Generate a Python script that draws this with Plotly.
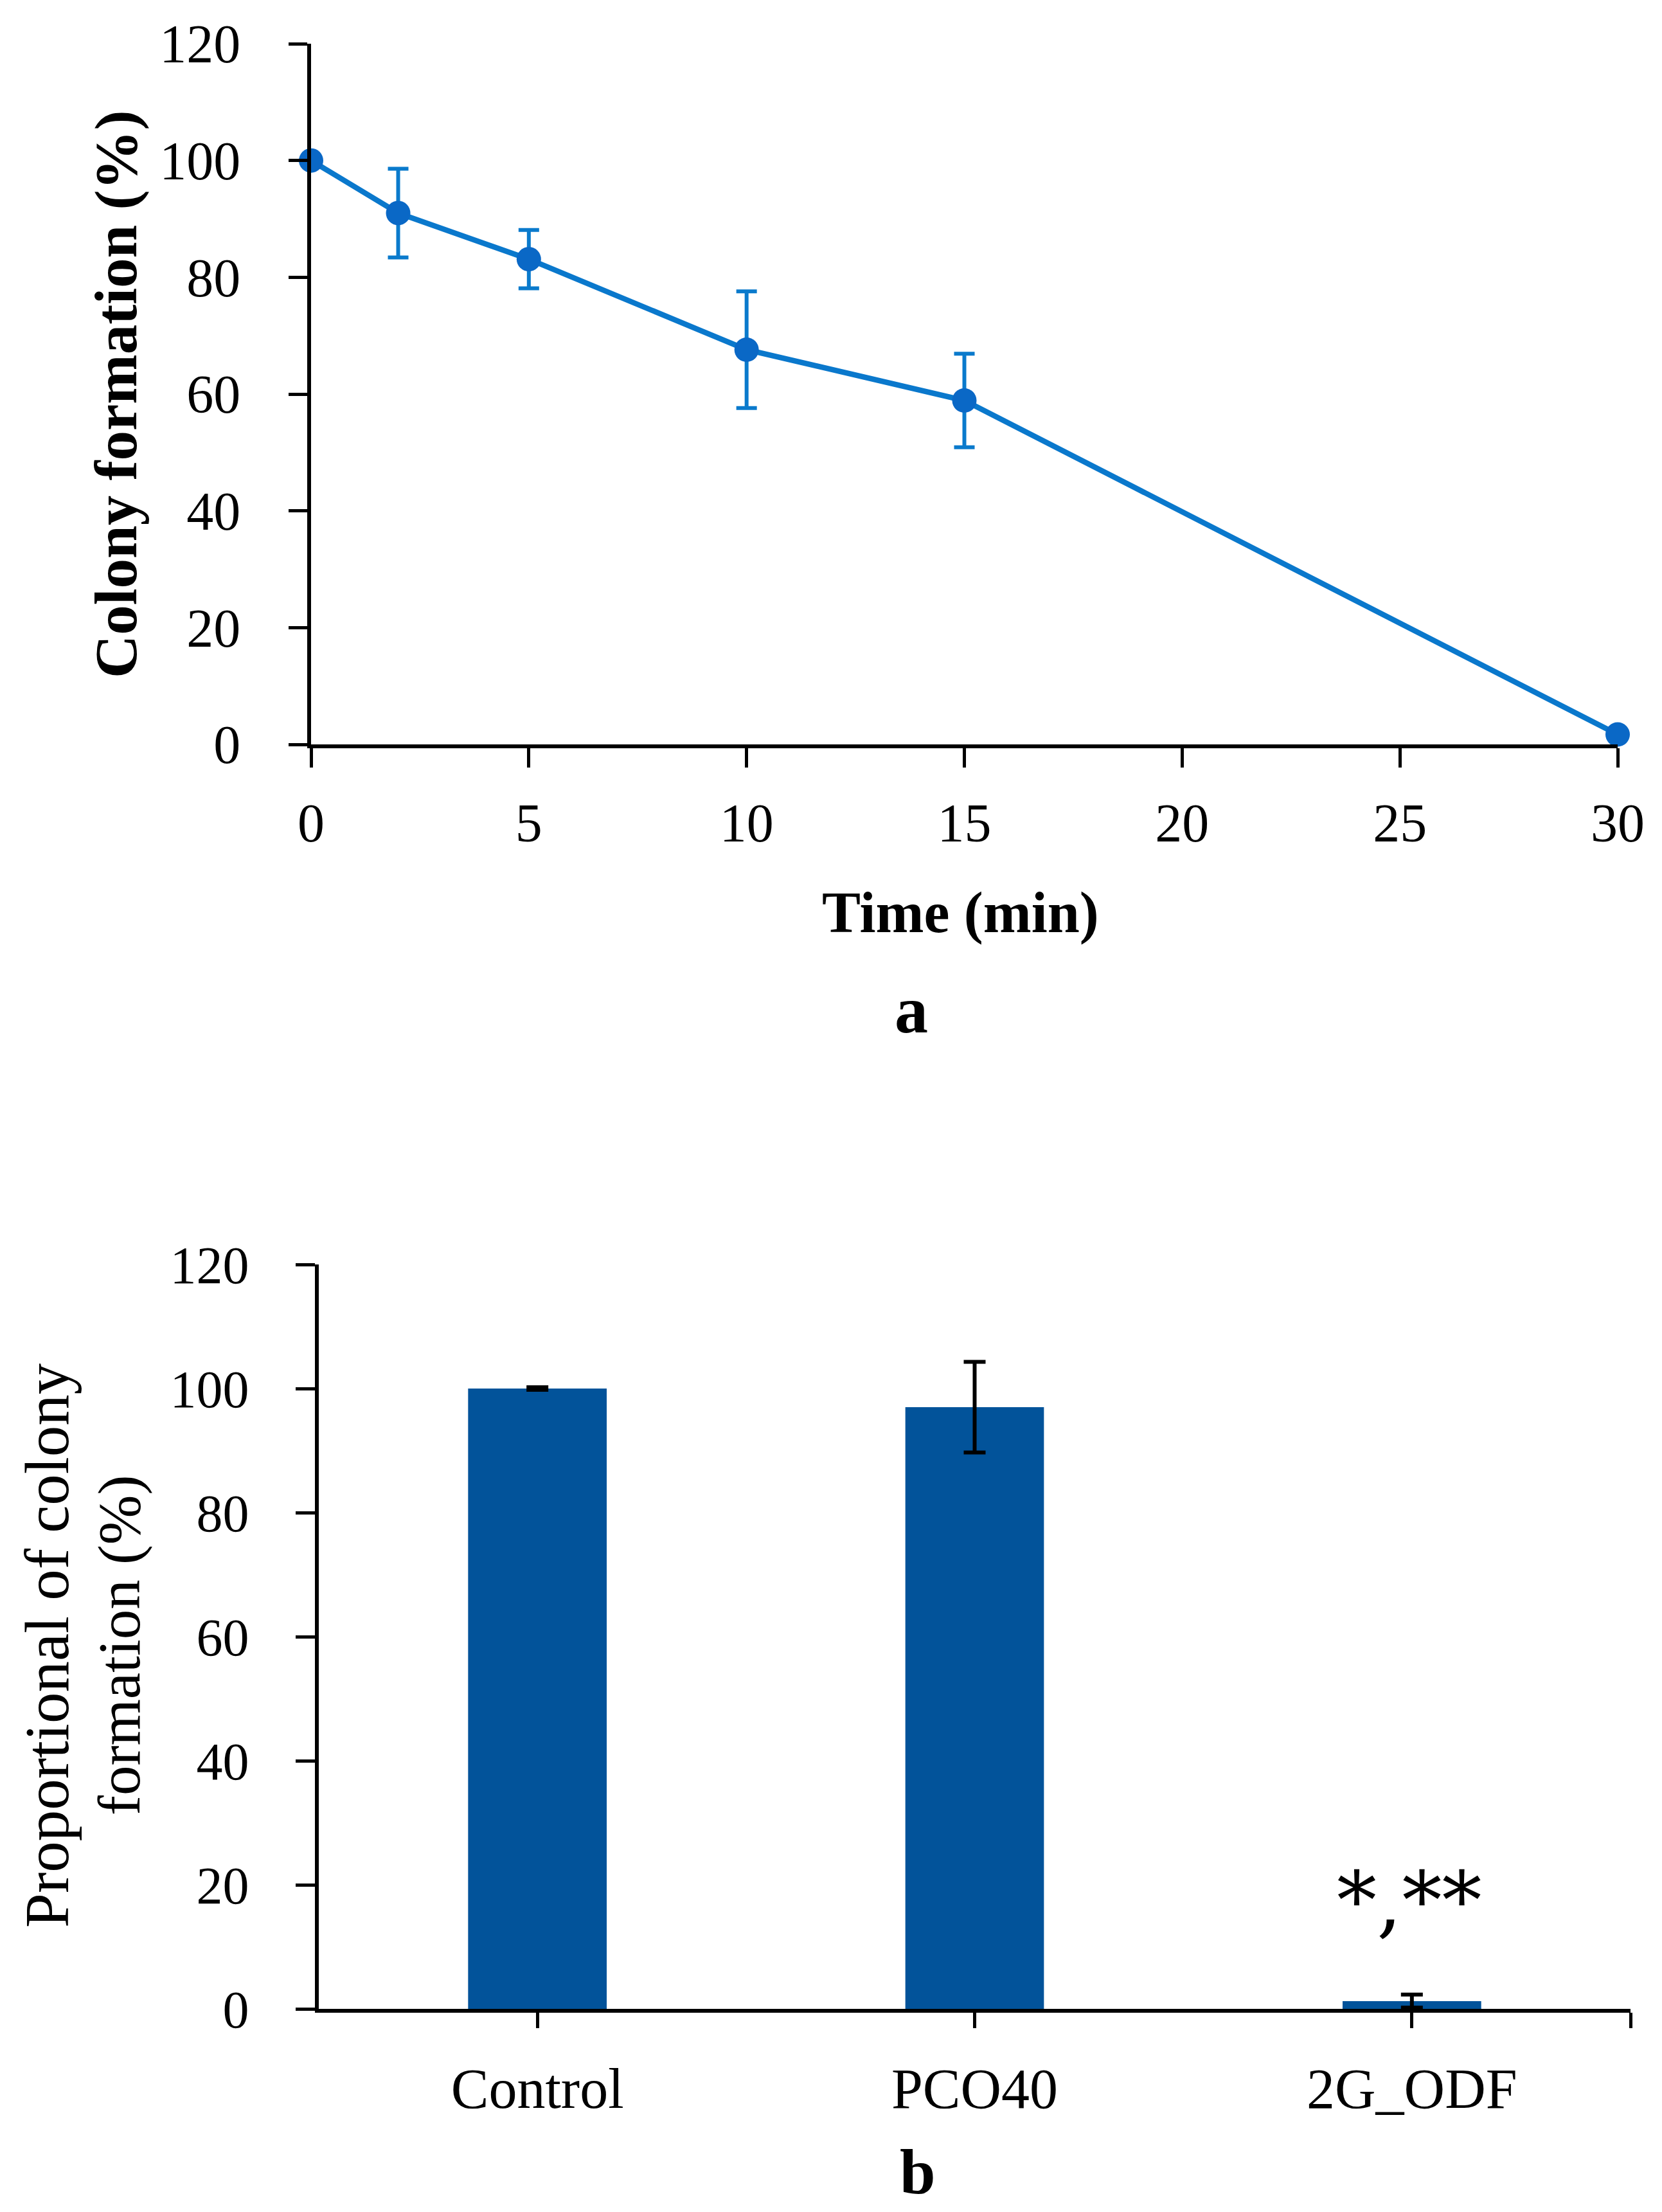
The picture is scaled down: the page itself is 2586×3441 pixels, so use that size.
import plotly.graph_objects as go

# ---- Panel a data ----
time_min = [0, 2, 5, 10, 15, 30]
colony_pct = [100, 91.0, 83.1, 67.6, 58.9, 1.7]
colony_err = [0, 7.6, 5.0, 10.0, 8.0, 0]
x_ticks_a = [0, 5, 10, 15, 20, 25, 30]
y_ticks = [0, 20, 40, 60, 80, 100, 120]

# ---- Panel b data ----
groups = ["Control", "PCO40", "2G_ODF"]
prop_pct = [100, 97.0, 1.25]
prop_err = [0.2, 7.3, 1.05]
signif_label = "*,**"

FONT = "Liberation Serif"
W, H = 2586, 3441

def px(xp):
    return xp / W

def py(yp):
    return 1 - yp / H

fig = go.Figure()

fig.add_trace(go.Scatter(
    x=time_min, y=colony_pct,
    mode="lines+markers",
    line=dict(color="#0A78CC", width=8.5),
    marker=dict(size=38, color="#0A68C6"),
    error_y=dict(type="data", array=colony_err, color="#0A7ACC", thickness=6, width=16),
    cliponaxis=False,
    xaxis="x", yaxis="y", showlegend=False,
))

bar_x = list(range(len(groups)))
fig.add_trace(go.Bar(
    x=bar_x, y=prop_pct, width=0.317,
    marker=dict(color="#02539A", line=dict(width=0)),
    error_y=dict(type="data", array=prop_err, color="black", thickness=6, width=17),
    xaxis="x2", yaxis="y2", showlegend=False,
))

axis_common = dict(
    showline=True, linecolor="black", linewidth=6,
    ticks="outside", tickcolor="black", tickwidth=5,
    showgrid=False, zeroline=False,
)

fig.update_layout(
    width=W, height=H,
    margin=dict(l=0, r=0, t=0, b=0, autoexpand=False),
    paper_bgcolor="white", plot_bgcolor="white",
    font=dict(family=FONT, color="black"),
    xaxis=dict(
        domain=[px(476), px(2509)], range=[0, 30], anchor="y",
        tickmode="array", tickvals=x_ticks_a, ticktext=[str(v) for v in x_ticks_a],
        ticklen=30, tickfont=dict(size=84, family=FONT, color="black"),
        ticklabelstandoff=14, **axis_common,
    ),
    yaxis=dict(
        domain=[py(1150), py(60)], range=[0, 120], anchor="x",
        tickmode="array", tickvals=y_ticks, ticktext=[str(v) for v in y_ticks],
        ticklen=29, tickfont=dict(size=84, family=FONT, color="black"),
        ticklabelstandoff=58, **axis_common,
    ),
    xaxis2=dict(
        domain=[px(488), px(2529)], range=[-0.5, 2.5], anchor="y2",
        tickmode="array", tickvals=bar_x, ticktext=groups,
        ticklen=24, tickfont=dict(size=88, family=FONT, color="black"),
        ticklabelstandoff=18,
        minor=dict(tickmode="array", tickvals=[2.5], ticks="outside", ticklen=24,
                   tickwidth=5, tickcolor="black", showgrid=False),
        **axis_common,
    ),
    yaxis2=dict(
        domain=[py(3117), py(1959)], range=[0, 120], anchor="x2",
        tickmode="array", tickvals=y_ticks, ticktext=[str(v) for v in y_ticks],
        ticklen=30, tickfont=dict(size=82, family=FONT, color="black"),
        ticklabelstandoff=56, **axis_common,
    ),
)

ann = [
    dict(text="<b>Colony formation (%)</b>", x=px(172), y=py(606), textangle=-90, size=93, family=FONT),
    dict(text="<b>Time (min)</b>", x=px(1486), y=py(1412), textangle=0, size=90, family=FONT),
    dict(text="<b>a</b>", x=px(1410), y=py(1562), textangle=0, size=104, family=FONT),
    dict(text="Proportional of colony", x=px(65), y=py(2552), textangle=-90, size=97, family=FONT),
    dict(text="formation (%)", x=px(177), y=py(2552), textangle=-90, size=93, family=FONT),
    dict(text=signif_label, x=px(2184), y=py(2949), textangle=0, size=124, family="DejaVu Serif"),
    dict(text="<b>b</b>", x=px(1420), y=py(3370), textangle=0, size=100, family=FONT),
]
for a in ann:
    fig.add_annotation(
        text=a["text"], x=a["x"], y=a["y"], xref="paper", yref="paper",
        xanchor="center", yanchor="middle", showarrow=False, textangle=a["textangle"],
        font=dict(family=a["family"], size=a["size"], color="black"),
    )

fig.write_html("out.html")
